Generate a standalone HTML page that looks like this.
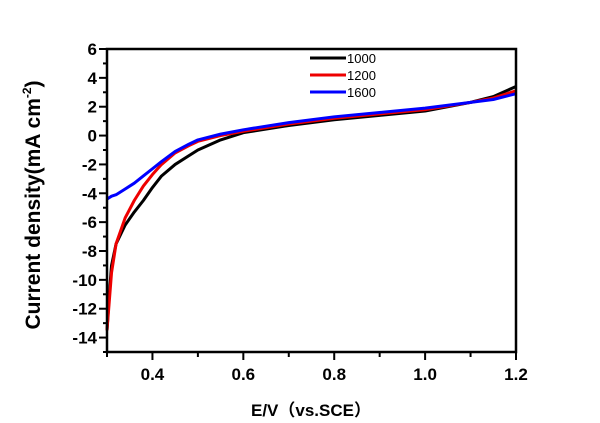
<!DOCTYPE html>
<html><head><meta charset="utf-8"><style>
body{margin:0;background:#fff;}
svg{display:block;font-family:"Liberation Sans",Arial,sans-serif;}
</style></head><body>
<svg id="chart" width="600" height="423"></svg>
<script>
const xs=[0.30,0.305,0.31,0.32,0.34,0.36,0.38,0.40,0.42,0.45,0.48,0.50,0.55,0.60,0.70,0.80,0.90,1.00,1.10,1.15,1.20];
const s1000=[-13.5,-11,-9,-7.5,-6.2,-5.3,-4.5,-3.6,-2.8,-2.0,-1.4,-1.0,-0.3,0.2,0.7,1.1,1.4,1.7,2.3,2.7,3.4];
const s1200=[-13.5,-11.5,-9.5,-7.5,-5.7,-4.5,-3.5,-2.7,-2.0,-1.2,-0.7,-0.4,0.0,0.3,0.8,1.2,1.5,1.8,2.3,2.6,3.1];
const s1600=[-4.4,-4.3,-4.2,-4.1,-3.7,-3.3,-2.8,-2.3,-1.8,-1.1,-0.6,-0.3,0.1,0.4,0.9,1.3,1.6,1.9,2.3,2.5,2.9];
const seriesNames=["1000","1200","1600"];
const seriesColors=["#000","#e00","#00f"];
const xTicks=[0.4,0.6,0.8,1.0,1.2];
const yTicks=[6,4,2,0,-2,-4,-6,-8,-10,-12,-14];
const L=107,R=516,T=49,B=352,x0=0.3,x1=1.2,y0=-15,y1=6;
const X=v=>L+(v-x0)/(x1-x0)*(R-L);
const Y=v=>B-(v-y0)/(y1-y0)*(B-T);
const svg=document.getElementById('chart');
const NS='http://www.w3.org/2000/svg';
function mk(t,a,p){const e=document.createElementNS(NS,t);for(const k in a)e.setAttribute(k,a[k]);(p||svg).appendChild(e);return e;}
[s1000,s1200,s1600].forEach((s,i)=>{
 const p=mk('polyline',{points:xs.map((x,j)=>X(x)+','+Y(s[j])).join(' '),fill:'none',stroke:seriesColors[i],'stroke-width':3,'stroke-linejoin':'round'});
 
 
});
const f=mk('rect',{x:L,y:T,width:R-L,height:B-T,fill:'none',stroke:'#000','stroke-width':2.5});


for(let v=-15;v<=6;v+=1){const major=yTicks.includes(v);mk('line',{x1:L,x2:L-(major?8:4),y1:Y(v),y2:Y(v),stroke:'#000','stroke-width':2});}
yTicks.forEach(v=>{const t=mk('text',{x:L-10,y:Y(v)+6,'text-anchor':'end','font-size':17,'font-weight':'bold'});t.textContent=v;
 
 });
for(let k=0;k<=9;k++){const v=0.3+k*0.1;const major=k%2==1;mk('line',{x1:X(v),x2:X(v),y1:B,y2:B+(major?8:5),stroke:'#000','stroke-width':2});}
xTicks.forEach(v=>{const t=mk('text',{x:X(v),y:380,'text-anchor':'middle','font-size':17,'font-weight':'bold'});t.textContent=v.toFixed(1);
 
 });
const xt=mk('text',{x:311,y:416,'text-anchor':'middle','font-size':17,'font-weight':'bold'});
xt.textContent='E/V（vs.SCE）';xt.style.fontFamily='"Liberation Sans","Noto Sans CJK SC",sans-serif';


const yt=mk('text',{transform:'translate(40,205) rotate(-90)','text-anchor':'middle','font-size':21,'font-weight':'bold'});
yt.innerHTML='Current density(mA cm<tspan dy="-9" font-size="12">-2</tspan><tspan dy="9">)</tspan>';


seriesNames.forEach((n,i)=>{const y=58+i*17;
 const g=mk('g',{});
 
 
 mk('line',{x1:310,x2:346,y1:y,y2:y,stroke:seriesColors[i],'stroke-width':3},g);
 const t=mk('text',{x:347,y:y+5,'font-size':13},g);t.textContent=n;});
</script>
</body></html>
